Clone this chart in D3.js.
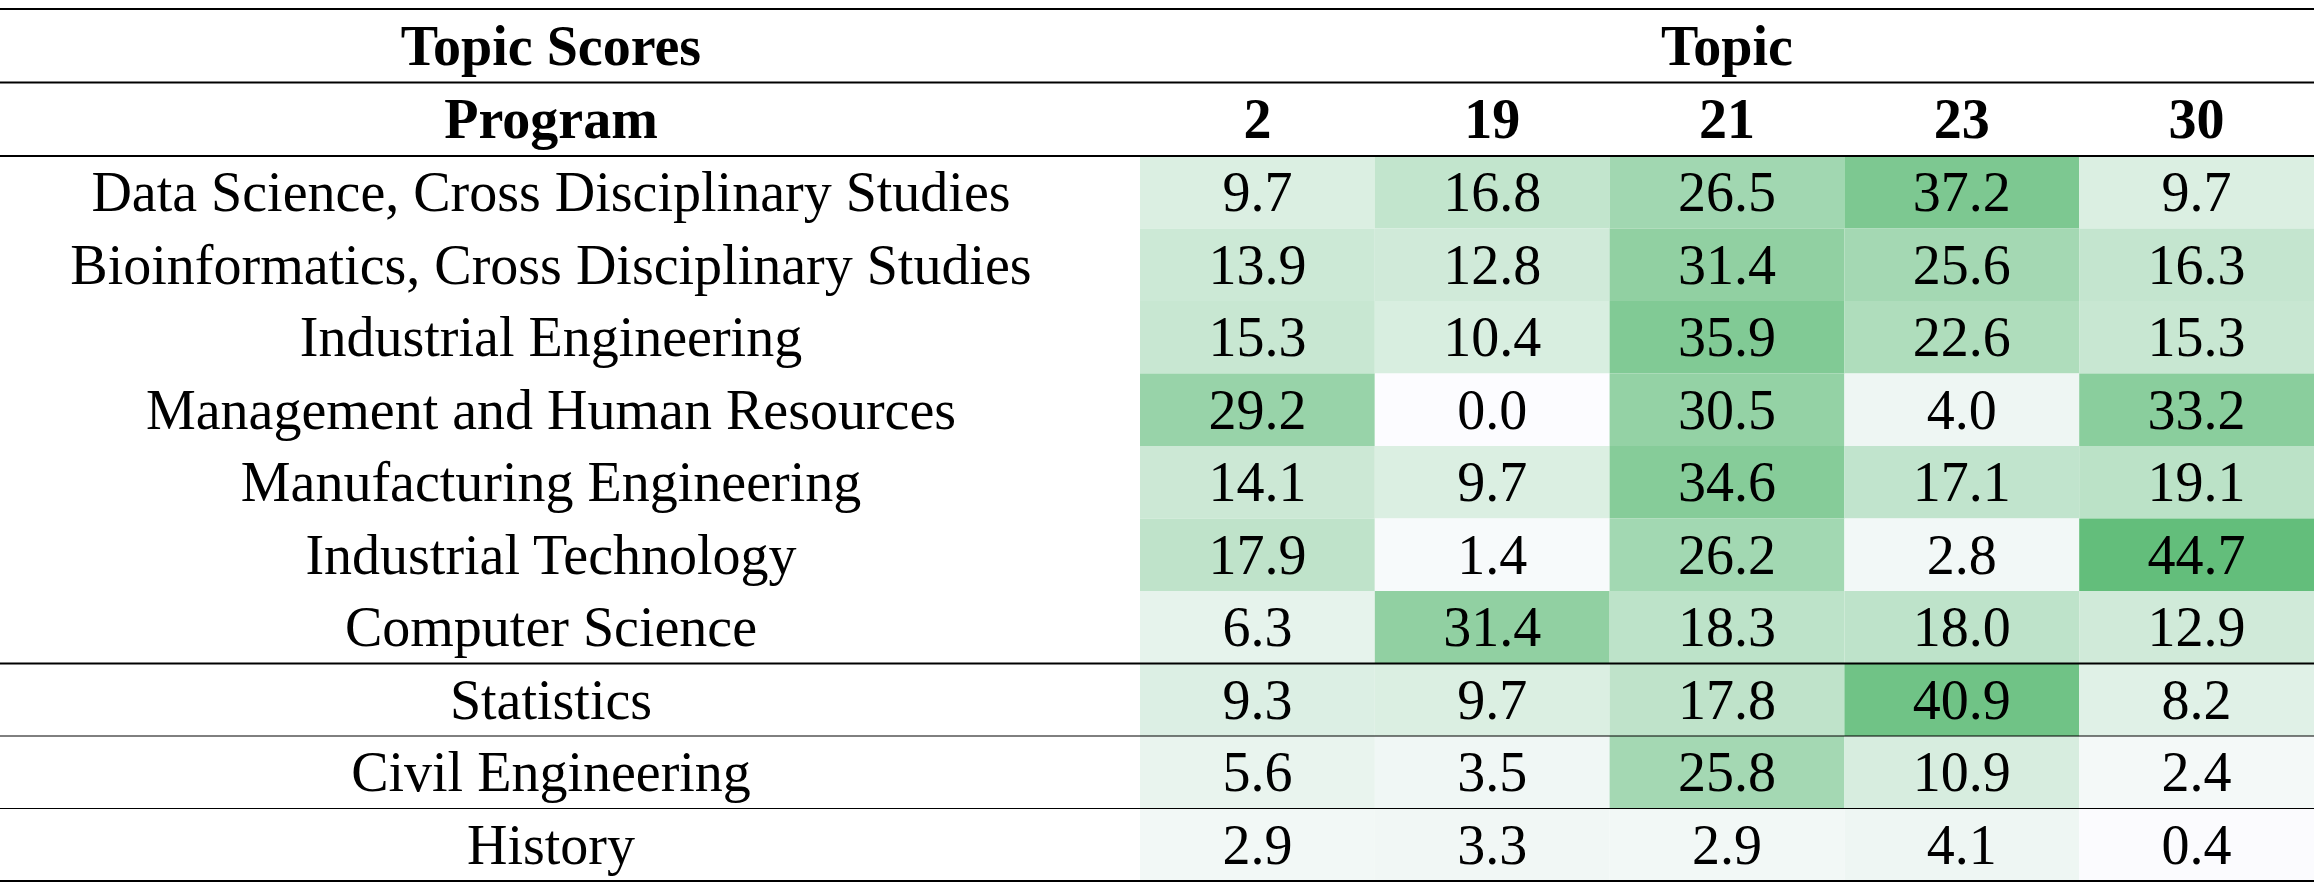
<!DOCTYPE html>
<html>
<head>
<meta charset="utf-8">
<script src="https://cdn.jsdelivr.net/npm/d3@7"></script>
<style>
  body { margin: 0; background: #fff; }
  text { font-family: "Liberation Serif", "Times New Roman", serif; fill: #000; }
</style>
</head>
<body>
<div id="table"></div>
<script>
const programs = [
  "Data Science, Cross Disciplinary Studies",
  "Bioinformatics, Cross Disciplinary Studies",
  "Industrial Engineering",
  "Management and Human Resources",
  "Manufacturing Engineering",
  "Industrial Technology",
  "Computer Science",
  "Statistics",
  "Civil Engineering",
  "History"
];
const topics = ["2", "19", "21", "23", "30"];
const topic2  = [9.7, 13.9, 15.3, 29.2, 14.1, 17.9, 6.3, 9.3, 5.6, 2.9];
const topic19 = [16.8, 12.8, 10.4, 0.0, 9.7, 1.4, 31.4, 9.7, 3.5, 3.3];
const topic21 = [26.5, 31.4, 35.9, 30.5, 34.6, 26.2, 18.3, 17.8, 25.8, 2.9];
const topic23 = [37.2, 25.6, 22.6, 4.0, 17.1, 2.8, 18.0, 40.9, 10.9, 4.1];
const topic30 = [9.7, 16.3, 15.3, 33.2, 19.1, 44.7, 12.9, 8.2, 2.4, 0.4];

document.addEventListener('DOMContentLoaded', () => {
    const width = 2314, height = 883;
    const series = [topic2, topic19, topic21, topic23, topic30];
    const serif = '"Liberation Serif", "Times New Roman", serif';

    const cells = [];
    programs.forEach((p, i) => {
        topics.forEach((t, j) => {
            cells.push({ program: p, topic: t, value: series[j][i] });
        });
    });

    const svg = d3.select('#table').append('svg')
        .attr('width', width)
        .attr('height', height)
        .style('font-family', serif);

    const xScale = d3.scaleBand().domain(topics).range([1140, width]);
    const yScale = d3.scaleBand().domain(programs).range([156, 881]);
    const programX = 551;
    const fontSize = 56;
    const baseOff = 19;

    const allValues = cells.map(d => d.value);
    const color = d3.scaleLinear()
        .domain([d3.min(allValues), d3.max(allValues)])
        .range(["#FCFCFF", "#63BE7B"])
        .interpolate(d3.interpolateRgb);

    // heat cells
    svg.append('g').selectAll('rect')
        .data(cells)
        .enter().append('rect')
        .attr('x', d => xScale(d.topic))
        .attr('y', d => yScale(d.program))
        .attr('width', xScale.bandwidth())
        .attr('height', yScale.bandwidth())
        .attr('fill', d => color(d.value));

    svg.append('g').selectAll('text')
        .data(cells)
        .enter().append('text')
        .attr('x', d => xScale(d.topic) + xScale.bandwidth() / 2)
        .attr('y', d => yScale(d.program) + yScale.bandwidth() / 2 + baseOff)
        .attr('text-anchor', 'middle')
        .attr('font-size', fontSize)
        .style('font-family', serif)
        .text(d => d.value.toFixed(1));

    // program labels
    svg.append('g').selectAll('text')
        .data(programs)
        .enter().append('text')
        .attr('x', programX)
        .attr('y', d => yScale(d) + yScale.bandwidth() / 2 + baseOff)
        .attr('text-anchor', 'middle')
        .attr('font-size', fontSize)
        .style('font-family', serif)
        .text(d => d);

    // header
    const head1 = 9, head2 = 82.5, head3 = 156;
    const header = svg.append('g')
        .attr('font-weight', 'bold')
        .attr('font-size', fontSize)
        .attr('text-anchor', 'middle')
        .style('font-family', serif);

    header.append('text')
        .attr('x', programX)
        .attr('y', (head1 + head2) / 2 + baseOff)
        .text('Topic Scores');

    header.append('text')
        .attr('x', (xScale.range()[0] + xScale.range()[1]) / 2)
        .attr('y', (head1 + head2) / 2 + baseOff)
        .text('Topic');

    header.append('text')
        .attr('x', programX)
        .attr('y', (head2 + head3) / 2 + baseOff)
        .text('Program');

    header.selectAll('.topic')
        .data(topics)
        .enter().append('text')
        .attr('class', 'topic')
        .attr('x', d => xScale(d) + xScale.bandwidth() / 2)
        .attr('y', (head2 + head3) / 2 + baseOff)
        .text(d => d);

    // rules
    const rules = [
        { y: head1, w: 2 },
        { y: head2, w: 2 },
        { y: head3, w: 2 },
        { y: yScale("Statistics"), w: 2 },
        { y: yScale("Civil Engineering"), w: 1 },
        { y: yScale("History"), w: 1 },
        { y: yScale.range()[1], w: 2 }
    ];
    svg.append('g').selectAll('line')
        .data(rules)
        .enter().append('line')
        .attr('x1', 0)
        .attr('x2', width)
        .attr('y1', d => d.y)
        .attr('y2', d => d.y)
        .attr('stroke', '#000')
        .attr('stroke-width', d => d.w);
});
</script>
</body>
</html>
